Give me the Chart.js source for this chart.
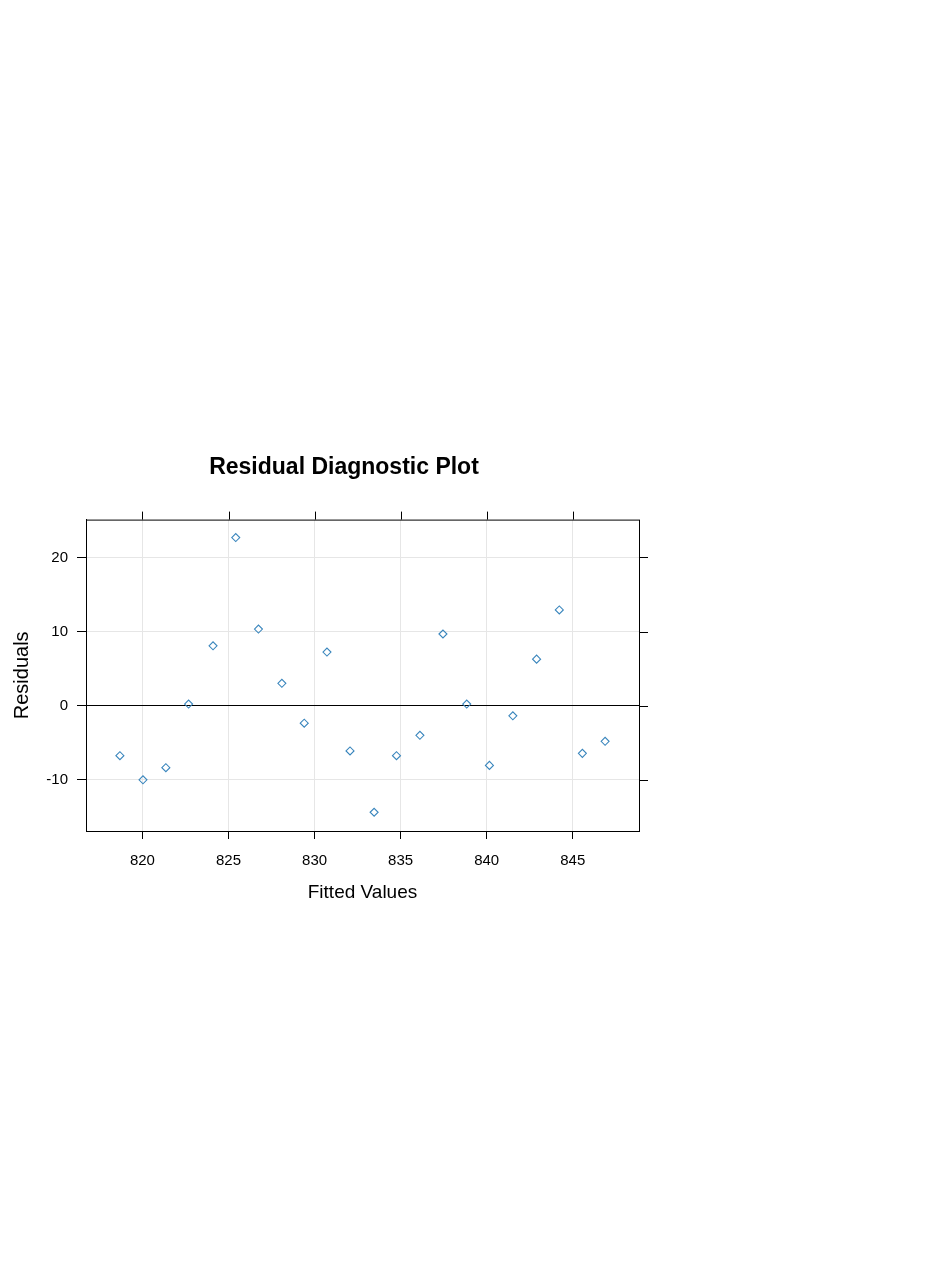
<!DOCTYPE html>
<html>
<head>
<meta charset="utf-8">
<script src="https://cdn.jsdelivr.net/npm/chart.js@4.4.0/dist/chart.umd.min.js"></script>
<style>
  html, body { margin: 0; padding: 0; background: #fff; }
  #plot { position: absolute; left: 0; top: 430px; }
</style>
</head>
<body>
<canvas id="plot" width="688" height="500"></canvas>
<script>
// fitted values and residuals
const fitted = [818.69, 820.03, 821.36, 822.68, 824.10, 825.42, 826.74, 828.10, 829.40, 830.72, 832.06,
                833.46, 834.76, 836.12, 837.46, 838.84, 840.16, 841.52, 842.90, 844.22, 845.56, 846.88];
const residuals = [-6.74, -9.99, -8.36, 0.22, 8.08, 22.68, 10.34, 3.02, -2.36, 7.23, -6.10,
                   -14.37, -6.74, -3.99, 9.67, 0.22, -8.05, -1.36, 6.28, 12.92, -6.43, -4.80];
const xRange = [816.72, 848.85];
const yRange = [-16.9, 25.1];

const points = fitted.map((f, i) => ({ x: f, y: residuals[i] }));
const font = "'Liberation Sans', Arial, sans-serif";

// lattice style: full box and tick marks on top and right too
const boxPlugin = {
  id: 'box',
  afterDraw(chart) {
    const { ctx, chartArea: { left, right, top, bottom }, scales: { x, y } } = chart;
    ctx.save();
    ctx.strokeStyle = '#000';
    ctx.lineWidth = 1;
    ctx.strokeRect(left + 0.5, top + 0.5, right - left, bottom - top);
    ctx.beginPath();
    x.ticks.forEach(t => {
      const px = Math.round(x.getPixelForValue(t.value)) + 0.5;
      ctx.moveTo(px, top);
      ctx.lineTo(px, top - 8);
    });
    y.ticks.forEach(t => {
      const py = Math.round(y.getPixelForValue(t.value)) + 0.5;
      ctx.moveTo(right, py);
      ctx.lineTo(right + 9, py);
    });
    ctx.stroke();
    ctx.restore();
  }
};

new Chart(document.getElementById('plot'), {
  type: 'scatter',
  data: {
    datasets: [{
      data: points,
      pointStyle: 'rectRot',
      pointRadius: 4,
      pointBorderWidth: 1.1,
      borderColor: '#3a86bd',
      backgroundColor: 'rgba(0,0,0,0)'
    }]
  },
  options: {
    responsive: false,
    devicePixelRatio: 1,
    animation: false,
    layout: { padding: { left: 0, right: 0, top: 0, bottom: 22 } },
    plugins: {
      legend: { display: false },
      tooltip: { enabled: false },
      title: {
        display: true,
        text: 'Residual Diagnostic Plot',
        color: '#000',
        font: { family: font, size: 23, weight: 'bold' },
        padding: { top: 24, bottom: 38 }
      }
    },
    scales: {
      x: {
        type: 'linear',
        min: xRange[0],
        max: xRange[1],
        afterFit(scale) { scale.height = 77; },
        border: { display: true, color: '#000' },
        grid: { color: '#e6e6e6', tickColor: '#000', tickLength: 8 },
        ticks: { stepSize: 5, includeBounds: false, color: '#000', padding: 13,
                 font: { family: font, size: 15 } },
        title: { display: true, text: 'Fitted Values', color: '#000',
                 font: { family: font, size: 19 } }
      },
      y: {
        type: 'linear',
        min: yRange[0],
        max: yRange[1],
        afterFit(scale) { scale.width = 86; },
        border: { display: true, color: '#000' },
        grid: {
          color: c => (c.tick && c.tick.value === 0 ? '#000' : '#e6e6e6'),
          tickColor: '#000',
          tickLength: 9
        },
        ticks: { stepSize: 10, includeBounds: false, color: '#000', padding: 9,
                 font: { family: font, size: 15 } },
        title: { display: true, text: 'Residuals', color: '#000',
                 font: { family: font, size: 20 }, padding: { top: 10 } }
      },
      // empty right margin, keeps the title centred on the whole figure
      y2: {
        type: 'linear',
        position: 'right',
        min: yRange[0],
        max: yRange[1],
        afterFit(scale) { scale.width = 49; },
        border: { display: false },
        grid: { display: false },
        ticks: { display: false }
      }
    }
  },
  plugins: [boxPlugin]
});
</script>
</body>
</html>
